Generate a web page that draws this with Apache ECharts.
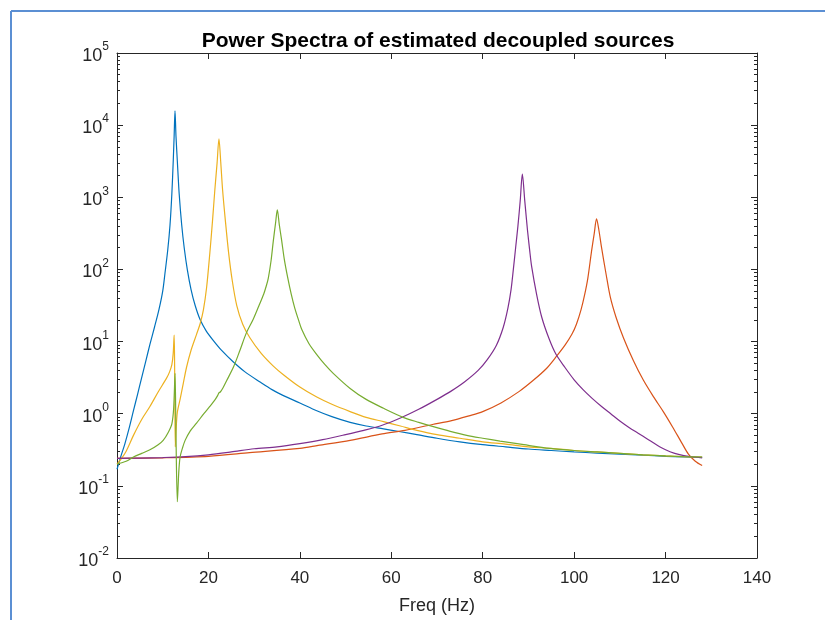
<!DOCTYPE html>
<html>
<head>
<meta charset="utf-8">
<script src="https://cdn.jsdelivr.net/npm/echarts@6/dist/echarts.min.js"></script>
<style>
html,body{margin:0;padding:0;background:#fff;}
#chart{width:825px;height:620px;}
</style>
</head>
<body>
<div id="chart"></div>
<script>
// ---- data (frequency in Hz, power) ----
const xTicks = [0, 20, 40, 60, 80, 100, 120, 140];
const yDecades = [-2, -1, 0, 1, 2, 3, 4, 5];

const source1 = [[0,0.17],[0.8,0.251],[1.75,0.389],[2.7,0.646],[3.6,1.10],[4.5,1.86],[5.4,3.16],[6.3,5.37],[7.2,9.12],[8.2,15.8],[9.2,28.2],[10,50.1],[10.5,89.1],[11.1,186],[11.6,417],[12.0,1120],[12.3,3160],[12.5,7080],[12.69,15800],[12.9,7080],[13.2,3160],[13.6,1120],[14.15,417],[14.7,200],[15.4,97.7],[16.2,52.5],[17.1,31.6],[18.2,20],[19.5,14.1],[21,10.5],[23,7.41],[25.4,5.25],[28,3.8],[31.3,2.75],[34,2.14],[36.4,1.78],[40,1.41],[43.7,1.10],[47,0.912],[51,0.759],[54.5,0.676],[58.3,0.617],[62,0.562],[65.6,0.513],[70,0.457],[75,0.407],[80,0.372],[85,0.347],[90,0.324],[95,0.309],[100,0.295],[105,0.285],[110,0.275],[115,0.266],[120,0.257],[124,0.251],[128,0.248]];

const source2 = [[0,0.24],[10,0.245],[20,0.257],[29,0.288],[40,0.331],[44,0.363],[51,0.427],[58,0.525],[63,0.589],[69,0.708],[73,0.794],[77,0.933],[80,1.07],[84,1.41],[88,2.04],[91,2.88],[94,4.27],[96.2,6.31],[98,8.91],[99.5,12.6],[100.5,17.4],[101.5,27.5],[102.3,44.7],[103,75.9],[103.8,178],[104.4,316],[104.9,501],[105.4,355],[106,200],[107,85.1],[107.9,41.7],[109.2,21.4],[110.8,11.2],[113,5.37],[115.1,2.95],[117.3,1.74],[119.5,1.07],[121.5,0.661],[123.5,0.398],[125,0.275],[126.5,0.219],[128,0.191]];

const source3 = [[0,0.2],[1,0.24],[2,0.302],[3.6,0.501],[5.4,0.832],[7.2,1.26],[9,2.0],[10.9,3.16],[11.5,3.8],[12.0,4.79],[12.3,6.92],[12.5,12.3],[12.6,5.01],[12.75,0.347],[12.9,0.562],[13.2,1.05],[13.8,1.58],[14.5,2.63],[15.2,4.37],[16.2,7.59],[17.4,12.6],[18.2,17.8],[18.9,27.5],[19.6,56.2],[20.3,166],[20.9,479],[21.4,1260],[21.9,3020],[22.3,6460],[22.7,3020],[23.1,1260],[23.7,479],[24.4,174],[25.2,70.8],[26.2,31.6],[27.5,17.4],[29.1,11.2],[31.5,6.92],[34.2,4.57],[36.4,3.47],[40,2.34],[43.7,1.70],[47,1.35],[51,1.07],[54.5,0.891],[58.3,0.776],[62,0.676],[65.6,0.589],[70,0.513],[75,0.457],[80,0.407],[85,0.380],[90,0.347],[95,0.331],[100,0.309],[105,0.295],[110,0.282],[115,0.269],[120,0.26],[124,0.254],[128,0.251]];

const source4 = [[0,0.24],[5,0.243],[10,0.247],[15,0.254],[20,0.269],[25,0.295],[30,0.327],[35,0.347],[40,0.385],[45,0.437],[50,0.513],[54,0.589],[58,0.692],[62,0.871],[66,1.15],[70,1.58],[73,2.04],[76,2.75],[79,3.98],[81,5.62],[83,8.91],[84.5,15.8],[85.5,28.8],[86.2,52.5],[86.7,100],[87.2,200],[87.7,398],[88.2,891],[88.67,2090],[89.2,891],[89.8,347],[90.3,178],[90.7,110],[91.8,44.7],[92.9,21.9],[94.5,11.0],[96,6.71],[98,4.37],[100,2.95],[102,2.14],[104,1.62],[106,1.26],[108,1.0],[110,0.794],[112,0.646],[114,0.537],[116,0.447],[118,0.372],[120,0.316],[122,0.282],[124,0.263],[126,0.251],[128,0.245]];

const source5 = [[0,0.2],[2,0.219],[3.6,0.251],[5.4,0.282],[7.2,0.316],[9,0.372],[10.1,0.427],[11.2,0.55],[12.0,0.724],[12.4,1.2],[12.7,3.63],[12.9,0.501],[13.2,0.0603],[13.5,0.151],[13.8,0.251],[14.3,0.331],[14.9,0.427],[16,0.575],[17.4,0.741],[19,1.0],[20.3,1.26],[21.5,1.58],[22.0,1.78],[22.3,1.95],[22.6,2.0],[23.2,2.29],[24,2.88],[25.5,4.47],[26.9,7.59],[28.3,13.2],[29.8,20.4],[31,30.9],[32.1,45.7],[32.7,60.3],[33.1,75.9],[33.7,132],[34.2,251],[34.7,447],[35.07,668],[35.5,417],[36.0,257],[36.6,138],[37.3,79.4],[38.1,45.7],[38.9,28.8],[39.7,20],[40.4,14.8],[42,9.33],[43.7,6.61],[45.5,4.79],[47.3,3.63],[51,2.24],[54.5,1.58],[58.3,1.19],[62.6,0.891],[66,0.759],[69.2,0.661],[72.9,0.569],[76.5,0.501],[80,0.457],[83.8,0.417],[89,0.372],[94.7,0.331],[100,0.309],[105,0.295],[110,0.282],[115,0.269],[120,0.26],[124,0.254],[128,0.251]];

const seriesColors = ['#0072BD', '#D95319', '#EDB120', '#7E2F8E', '#77AC30'];
const seriesData = [source1, source2, source3, source4, source5];

// minor tick values of the log axis (2..9 of each decade)
const minorTicks = [];
for (let e = -2; e < 5; e++) {
  for (let m = 2; m <= 9; m++) minorTicks.push(m * Math.pow(10, e));
}

const FONT = 'Liberation Sans';
const INK = '#262626';

const chart = echarts.init(document.getElementById('chart'), null, {renderer: 'canvas'});

function logAxis(extra) {
  return Object.assign({
    type: 'log', logBase: 10, min: 0.01, max: 100000, splitNumber: 7,
    splitLine: {show: false}
  }, extra);
}

chart.setOption({
  animation: false,
  backgroundColor: '#ffffff',
  title: {
    text: 'Power Spectra of estimated decoupled sources',
    left: 433, top: 26, textAlign: 'center',
    textStyle: {fontFamily: FONT, fontSize: 21, fontWeight: 'bold', color: '#000'}
  },
  grid: {left: 117, right: 68, top: 53, bottom: 62, containLabel: false},
  xAxis: [{
    type: 'value', min: 0, max: 140, interval: 20, position: 'bottom',
    axisLine: {show: true, onZero: false, lineStyle: {color: INK, width: 1}},
    axisTick: {show: true, inside: true, length: 6, lineStyle: {color: INK}},
    axisLabel: {show: true, margin: 12, fontFamily: FONT, fontSize: 17, color: INK,
      customValues: xTicks},
    splitLine: {show: false},
    name: 'Freq (Hz)', nameLocation: 'middle', nameGap: 39,
    nameTextStyle: {fontFamily: FONT, fontSize: 18, color: INK}
  }, {
    type: 'value', min: 0, max: 140, interval: 20, position: 'top',
    axisLine: {show: true, onZero: false, lineStyle: {color: INK, width: 1}},
    axisTick: {show: true, inside: true, length: 6, lineStyle: {color: INK}},
    axisLabel: {show: false}, splitLine: {show: false}
  }],
  yAxis: [
    logAxis({
      position: 'left',
      axisLine: {show: true, onZero: false, lineStyle: {color: INK, width: 1}},
      axisTick: {show: true, inside: true, length: 6, lineStyle: {color: INK}},
      axisLabel: {
        show: true, margin: 8,
        formatter: function (v) {
          const e = Math.round(Math.log10(v));
          return '{b|10}{s|' + e + '}';
        },
        rich: {
          b: {fontFamily: FONT, fontSize: 18, color: INK, lineHeight: 24, verticalAlign: 'bottom'},
          s: {fontFamily: FONT, fontSize: 12, color: INK, lineHeight: 24, verticalAlign: 'top'}
        }
      }
    }),
    logAxis({
      position: 'right',
      axisLine: {show: true, onZero: false, lineStyle: {color: INK, width: 1}},
      axisTick: {show: true, inside: true, length: 6, lineStyle: {color: INK}},
      axisLabel: {show: false}
    }),
    // minor ticks along the left edge (right-positioned axis shifted onto the left edge)
    logAxis({
      position: 'right', offset: -640,
      axisLine: {show: false, onZero: false},
      axisTick: {show: true, inside: false, length: 3, lineStyle: {color: INK}, customValues: minorTicks},
      axisLabel: {show: false}
    }),
    // minor ticks along the right edge
    logAxis({
      position: 'right', offset: 0,
      axisLine: {show: false, onZero: false},
      axisTick: {show: true, inside: true, length: 3, lineStyle: {color: INK}, customValues: minorTicks},
      axisLabel: {show: false}
    })
  ],
  graphic: [
    {type: 'line', shape: {x1: 11, y1: 11, x2: 825, y2: 11}, style: {stroke: '#5b8fd3', lineWidth: 2}, silent: true},
    {type: 'line', shape: {x1: 11, y1: 11, x2: 11, y2: 620}, style: {stroke: '#5b8fd3', lineWidth: 2}, silent: true}
  ],
  series: seriesData.map((d, i) => ({
    type: 'line', data: d, xAxisIndex: 0, yAxisIndex: 0,
    showSymbol: false, symbol: 'none', smooth: 0.3,
    lineStyle: {color: seriesColors[i], width: 1.2},
    itemStyle: {color: seriesColors[i]},
    z: 2 + i
  }))
});
</script>
</body>
</html>
